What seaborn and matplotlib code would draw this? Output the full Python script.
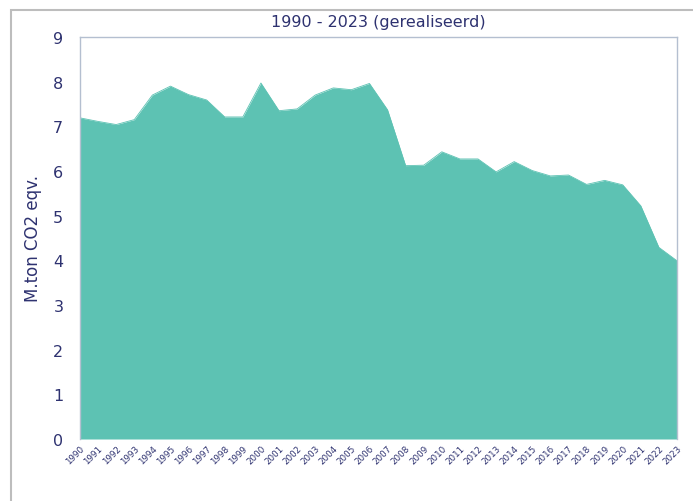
import matplotlib
matplotlib.use("Agg")
import matplotlib.pyplot as plt
import seaborn as sns
import pandas as pd
from matplotlib.patches import Rectangle

years = list(range(1990, 2024))
emissions = [7.19, 7.11, 7.04, 7.15, 7.70, 7.90, 7.71, 7.59, 7.21, 7.21,
             7.97, 7.35, 7.39, 7.70, 7.86, 7.82, 7.96, 7.37, 6.12, 6.13,
             6.43, 6.27, 6.27, 5.98, 6.21, 6.01, 5.89, 5.91, 5.70, 5.79,
             5.69, 5.22, 4.29, 3.99]
title = "1990 - 2023 (gerealiseerd)"
ylabel = "M.ton CO2 eqv."
yticks = [0, 1, 2, 3, 4, 5, 6, 7, 8, 9]

df = pd.DataFrame({"year": years, "value": emissions})

sns.set_theme(style="white")
plt.rcParams['font.family'] = ['DejaVu Sans']

text_c = "#2e3270"
fill_c = "#5dc2b3"
frame_c = "#b4bfd0"

fig = plt.figure(figsize=(6.93, 5.02), dpi=100)
ax = fig.add_axes([80/693, 1-440/502, (677-80)/693, (440-38)/502])

sns.lineplot(data=df, x="year", y="value", ax=ax, color=fill_c, linewidth=0.6)
ax.fill_between(df["year"], 0, df["value"], color=fill_c, linewidth=0)

ax.set_xlim(years[0], years[-1])
ax.set_ylim(0, 9)
ax.set_yticks(yticks)
ax.set_yticklabels([str(t) for t in yticks], fontsize=11.5, color=text_c)
ax.set_xticks(years)
ax.set_xticklabels([str(y) for y in years], rotation=45, ha="right",
                   rotation_mode="anchor", fontsize=6.3, color=text_c)
ax.tick_params(axis="y", length=0, pad=12)
ax.tick_params(axis="x", length=0, pad=3)
ax.set_xlabel("")
ax.set_ylabel(ylabel, fontsize=12, color=text_c, labelpad=8)
ax.set_title(title, fontsize=11.5, color=text_c, pad=8)

for side, sp in ax.spines.items():
    sp.set_color(frame_c)
    sp.set_linewidth(1.0)
ax.spines["bottom"].set_visible(False)

fig.patches.append(Rectangle((11/693, -0.05), 1.2, 1.05 - 11/502,
                             transform=fig.transFigure, fill=False,
                             edgecolor="#bdbdbd", linewidth=1.5))

fig.savefig("out.png", dpi=100)
